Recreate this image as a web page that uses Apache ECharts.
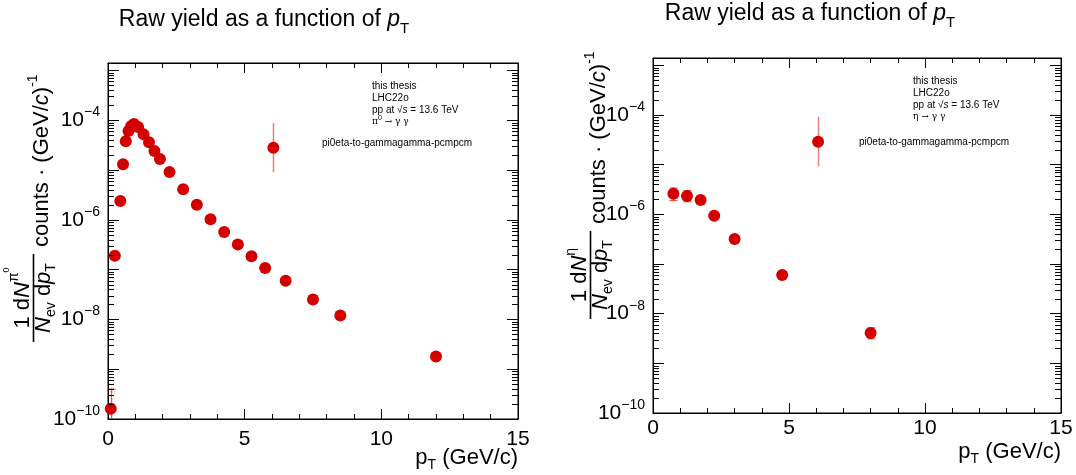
<!DOCTYPE html>
<html>
<head>
<meta charset="utf-8">
<script src="https://cdn.jsdelivr.net/npm/echarts@6/dist/echarts.min.js"></script>
<style>
html, body { margin: 0; padding: 0; background: #fff; }
#c { width: 1076px; height: 475px; }
</style>
</head>
<body>
<div id="c"></div>
<script>
// pi0 -> gamma gamma raw yield per pT bin
const pi0Pt    = [0.1, 0.25, 0.45, 0.55, 0.65, 0.75, 0.85, 0.95, 1.1, 1.3, 1.5, 1.7, 1.9, 2.25, 2.75, 3.25, 3.75, 4.25, 4.75, 5.25, 5.75, 6.5, 7.5, 8.5, 12];
const pi0Yield = [1.6e-10, 1.9e-7, 2.4e-6, 1.3e-5, 3.8e-5, 6.1e-5, 7.7e-5, 8.4e-5, 7.3e-5, 5.2e-5, 3.6e-5, 2.4e-5, 1.66e-5, 9.1e-6, 4.1e-6, 2.0e-6, 1.03e-6, 5.7e-7, 3.2e-7, 1.85e-7, 1.08e-7, 6.0e-8, 2.5e-8, 1.2e-8, 1.8e-9];
const pi0ErrLow  = [1e-11, null, null, null, null, null, null, null, null, null, null, null, null, null, null, null, null, null, null, null, null, null, null, null, null];
const pi0ErrHigh = [4.0e-10, null, null, null, null, null, null, null, null, null, null, null, null, null, null, null, null, null, null, null, null, null, null, null, null];
// separate bin with a large uncertainty
const pi0WidePt = [6.05];
const pi0WideYield = [2.8e-5];
const pi0WideLow = [9.0e-6];
const pi0WideHigh = [8.8e-5];

// eta -> gamma gamma raw yield per pT bin
const etaPt    = [0.75, 1.25, 1.75, 2.25, 3.0, 4.75, 8.0];
const etaYield = [2.6e-6, 2.35e-6, 1.95e-6, 9.4e-7, 3.2e-7, 6.0e-8, 4.1e-9];
const etaErrLow  = [1.9e-6, 1.8e-6, null, null, null, null, 3.1e-9];
const etaErrHigh = [3.4e-6, 3.0e-6, null, null, null, null, 5.2e-9];
const etaWidePt = [6.07];
const etaWideYield = [2.9e-5];
const etaWideLow = [9.3e-6];
const etaWideHigh = [9.2e-5];

// axis ranges and labelled decades
const xRange = [0, 15];
const xStep = 5;
const yRange = [1e-10, 1.41e-3];
const yLabelExponents = [-10, -8, -6, -4];

const FONT = '"Liberation Sans", Arial, Helvetica, sans-serif';
const RED = '#d40000';
const BAR = 'rgba(220, 40, 40, 0.75)';
const BAR_WIDE = 'rgba(225, 70, 70, 0.7)';

const chart = echarts.init(document.getElementById('c'), null, { renderer: 'canvas' });

const grids = [
  { left: 108, top: 63, width: 410, height: 356, show: true, borderColor: '#000', borderWidth: 1, backgroundColor: 'transparent' },
  { left: 653, top: 58, width: 408, height: 355, show: true, borderColor: '#000', borderWidth: 1, backgroundColor: 'transparent' }
];

const xLabelMargin = [10, 5];

function xAxes(g) {
  const base = {
    type: 'value', gridIndex: g, min: xRange[0], max: xRange[1], interval: xStep,
    axisLine: { show: true, onZero: false, lineStyle: { color: '#000', width: 1 } },
    axisTick: { show: true, inside: true, length: 10, lineStyle: { color: '#000', width: 1 } },
    minorTick: { show: true, splitNumber: 5, length: 5, lineStyle: { color: '#000', width: 1 } },
    splitLine: { show: false }, minorSplitLine: { show: false }
  };
  return [
    Object.assign({}, base, {
      position: 'bottom',
      axisLabel: { show: true, color: '#000', fontSize: 21, fontFamily: FONT, margin: xLabelMargin[g] }
    }),
    Object.assign({}, base, { position: 'top', axisLabel: { show: false } })
  ];
}

function isLabelled(v) {
  const e = Math.log10(v);
  const r = Math.round(e);
  return Math.abs(e - r) < 1e-6 && yLabelExponents.indexOf(r) >= 0 ? r : null;
}

function yAxes(g) {
  const base = {
    type: 'log', logBase: 10, gridIndex: g, min: yRange[0], max: yRange[1],
    axisLine: { show: true, onZero: false, lineStyle: { color: '#000', width: 1 } },
    axisTick: { show: true, inside: true, length: 11, lineStyle: { color: '#000', width: 1 } },
    splitLine: { show: false }
  };
  return [
    Object.assign({}, base, {
      position: 'left',
      axisLabel: {
        show: true, margin: 8, color: '#000', fontFamily: FONT,
        formatter: function (v) {
          const r = isLabelled(v);
          return r === null ? '' : '{b|10}{e|\u2212' + Math.abs(r) + '}';
        },
        rich: {
          b: { fontSize: 21, fontFamily: FONT, color: '#000', lineHeight: 30 },
          e: { fontSize: 14, fontFamily: FONT, color: '#000', lineHeight: 14, padding: [0, 0, 16, 0] }
        }
      }
    }),
    Object.assign({}, base, { position: 'right', axisLabel: { show: false } })
  ];
}

// minor decade ticks (2..9 x 10^n) on both vertical frame sides
const minorY = [];
for (let n = -10; n <= -3; n++) {
  for (let k = 2; k <= 9; k++) {
    const v = k * Math.pow(10, n);
    if (v > yRange[0] && v < yRange[1]) minorY.push([xRange[0], v]);
  }
}

function minorTickSeries(g) {
  return {
    type: 'custom', xAxisIndex: 2 * g, yAxisIndex: 2 * g, silent: true, clip: false, z: 5,
    data: minorY,
    renderItem: function (params, api) {
      const v = api.value(1);
      const pl = api.coord([xRange[0], v]);
      const pr = api.coord([xRange[1], v]);
      const y = Math.round(pl[1]) + 0.5;
      return {
        type: 'group',
        children: [
          { type: 'line', shape: { x1: pl[0], y1: y, x2: pl[0] + 6, y2: y }, style: { stroke: '#000', lineWidth: 1 } },
          { type: 'line', shape: { x1: pr[0], y1: y, x2: pr[0] - 6, y2: y }, style: { stroke: '#000', lineWidth: 1 } }
        ]
      };
    }
  };
}

function errorSeries(g, xs, lows, highs, color, caps) {
  const data = [];
  xs.forEach(function (x, i) {
    if (lows[i] != null && highs[i] != null) data.push([x, lows[i], highs[i]]);
  });
  return {
    type: 'custom', xAxisIndex: 2 * g, yAxisIndex: 2 * g, silent: true, clip: true, z: 3,
    encode: { x: 0, y: [1, 2] },
    data: data,
    renderItem: function (params, api) {
      const lo = api.coord([api.value(0), api.value(1)]);
      const hi = api.coord([api.value(0), api.value(2)]);
      const xx = Math.round(lo[0]) + 0.5;
      const children = [
        { type: 'line', shape: { x1: xx, y1: lo[1], x2: xx, y2: hi[1] }, style: { stroke: color, lineWidth: 1.5 } }
      ];
      if (caps) {
        children.push({ type: 'line', shape: { x1: xx - 4, y1: lo[1], x2: xx + 4, y2: lo[1] }, style: { stroke: color, lineWidth: 1.2 } });
        children.push({ type: 'line', shape: { x1: xx - 4, y1: hi[1], x2: xx + 4, y2: hi[1] }, style: { stroke: color, lineWidth: 1.2 } });
      }
      return { type: 'group', children: children };
    }
  };
}

function pointSeries(g, xs, ys) {
  return {
    type: 'scatter', xAxisIndex: 2 * g, yAxisIndex: 2 * g, symbol: 'circle', symbolSize: 12, z: 4,
    itemStyle: { color: RED, opacity: 1 },
    silent: true,
    data: xs.map(function (x, i) { return [x, ys[i]]; })
  };
}

// ---- text decorations ----
const richBase = {
  a: { fontSize: 22, fontFamily: FONT, color: '#000', lineHeight: 30 },
  i: { fontSize: 22, fontFamily: FONT, color: '#000', lineHeight: 30, fontStyle: 'italic' },
  sup: { fontSize: 14, fontFamily: FONT, color: '#000', lineHeight: 14, padding: [0, 0, 18, 0] },
  sup2: { fontSize: 9, fontFamily: FONT, color: '#000', lineHeight: 9, padding: [0, 0, 32, 0] },
  sub: { fontSize: 14, fontFamily: FONT, color: '#000', lineHeight: 14, padding: [14, 0, 0, 0] }
};

function yTitle(gx, gy, numerator) {
  return {
    type: 'group', x: gx, y: gy, rotation: Math.PI / 2, silent: true,
    children: [
      { type: 'text', x: 45, y: 23, style: { text: numerator, rich: richBase, align: 'center', verticalAlign: 'middle' } },
      { type: 'line', shape: { x1: 1, y1: 33.5, x2: 89, y2: 33.5 }, style: { stroke: '#000', lineWidth: 1.6 } },
      { type: 'text', x: 45, y: 44, style: { text: '{i|N}{sub|ev}{a| d}{i|p}{sub|T}', rich: richBase, align: 'center', verticalAlign: 'middle' } },
      { type: 'text', x: 96, y: 42, style: { text: '{a|counts \u00b7 (GeV/}{i|c}{a|)}{sup|-1}', rich: richBase, align: 'left', verticalAlign: 'middle' } }
    ]
  };
}

function title(cx, cy) {
  return {
    type: 'text', x: cx, y: cy, silent: true,
    style: {
      text: '{a|Raw yield as a function of }{i|p}{sub|T}',
      rich: {
        a: { fontSize: 23, fontFamily: FONT, color: '#000', lineHeight: 30 },
        i: { fontSize: 23, fontFamily: FONT, color: '#000', lineHeight: 30, fontStyle: 'italic' },
        sub: { fontSize: 15, fontFamily: FONT, color: '#000', lineHeight: 15, padding: [17, 0, 0, 0] }
      },
      align: 'center', verticalAlign: 'middle'
    }
  };
}

function xTitle(rx, cy) {
  return {
    type: 'text', x: rx, y: cy, silent: true,
    style: {
      text: '{a|p}{sub|T}{a| (GeV/c)}',
      rich: {
        a: { fontSize: 22, fontFamily: FONT, color: '#000', lineHeight: 28 },
        sub: { fontSize: 14, fontFamily: FONT, color: '#000', lineHeight: 14, padding: [14, 0, 0, 0] }
      },
      align: 'right', verticalAlign: 'middle'
    }
  };
}

const noteRich = {
  a: { fontSize: 10, fontFamily: FONT, color: '#000', lineHeight: 12 },
  i: { fontSize: 10, fontFamily: FONT, color: '#000', lineHeight: 12, fontStyle: 'italic' },
  g: { fontSize: 9, fontFamily: '"DejaVu Serif", serif', color: '#000', lineHeight: 12 },
  sup: { fontSize: 7, fontFamily: FONT, color: '#000', lineHeight: 7, padding: [0, 0, 8, 0] }
};

function notes(x, y0, decay, tagX, tagY) {
  const lines = ['{a|this thesis}', '{a|LHC22o}', '{a|pp at \u221a}{i|s}{a| = 13.6 TeV}', decay];
  const out = lines.map(function (t, k) {
    return { type: 'text', x: x, y: y0 + 12 * k, silent: true, style: { text: t, rich: noteRich, align: 'left', verticalAlign: 'middle' } };
  });
  out.push({ type: 'text', x: tagX, y: tagY, silent: true, style: { text: '{a|pi0eta-to-gammagamma-pcmpcm}', rich: noteRich, align: 'left', verticalAlign: 'middle' } });
  return out;
}

const graphics = [
  title(264, 20),
  title(810, 14),
  yTitle(0, 343, '{a|1 d}{i|N}{sup|\u03c0}{sup2|0}'),
  yTitle(557, 320, '{a|1 d}{i|N}{sup|\u03b7}'),
  xTitle(518, 458),
  xTitle(1061, 452)
].concat(
  notes(372, 86, '{g|\u03c0}{sup|0}{g| \u2192 \u03b3 \u03b3}', 322, 143),
  notes(913, 81, '{g|\u03b7 \u2192 \u03b3 \u03b3}', 859, 142)
);

chart.setOption({
  animation: false,
  backgroundColor: '#fff',
  grid: grids,
  xAxis: xAxes(0).concat(xAxes(1)),
  yAxis: yAxes(0).concat(yAxes(1)),
  series: [
    minorTickSeries(0),
    minorTickSeries(1),
    errorSeries(0, pi0Pt, pi0ErrLow, pi0ErrHigh, BAR, true),
    errorSeries(0, pi0WidePt, pi0WideLow, pi0WideHigh, BAR_WIDE, false),
    pointSeries(0, pi0Pt, pi0Yield),
    pointSeries(0, pi0WidePt, pi0WideYield),
    errorSeries(1, etaPt, etaErrLow, etaErrHigh, BAR, true),
    errorSeries(1, etaWidePt, etaWideLow, etaWideHigh, BAR_WIDE, false),
    pointSeries(1, etaPt, etaYield),
    pointSeries(1, etaWidePt, etaWideYield)
  ],
  graphic: graphics
});
</script>
</body>
</html>
